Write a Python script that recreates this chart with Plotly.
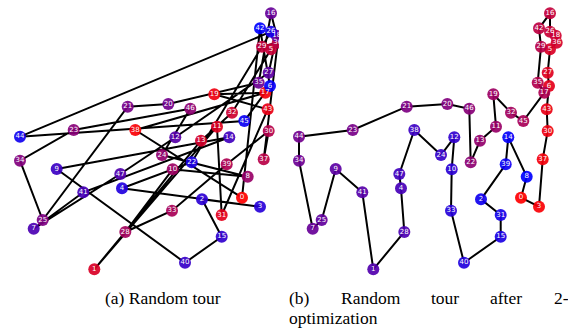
import plotly.graph_objects as go

# City coordinates (same cities in both panels)
city_x = [242, 94.3, 202, 260, 122, 271, 270, 33.7, 247.7, 56.7,
          172.7, 217, 175.3, 201, 229.3, 221.7, 271, 265.3, 276.7, 214.3,
          168.3, 127.7, 191.7, 73.7, 162, 42.7, 271, 268.7, 125.3, 262,
          268.7, 221.7, 232, 172, 20, 258.7, 277.7, 263.7, 135.3, 226.7,
          185, 83.3, 260, 267.7, 20, 244.3, 190.3, 120.3]
city_y = [82.3, 10.7, 80.7, 73.3, 91.7, 230.7, 194, 51.3, 103.3, 111,
          110.7, 153.3, 142.7, 139.3, 142.7, 43.3, 266.7, 187.3, 244.3, 185.7,
          176, 173.3, 117.7, 150, 125, 60, 248.3, 207.3, 48, 233.3,
          149, 65, 167.3, 69.3, 119.3, 197.3, 237.3, 120.7, 150, 115.7,
          17.3, 87.7, 251.7, 170.7, 143.3, 159, 171.3, 106]
city_labels = [str(i) for i in range(len(city_x))]

# Visiting orders
random_tour = [0, 38, 17, 19, 43, 31, 11, 1, 13, 32, 5, 29, 36, 37, 30, 39, 33, 28, 10, 8,
               24, 46, 23, 34, 25, 21, 20, 35, 16, 18, 27, 12, 47, 7, 41, 14, 9, 40, 15, 2,
               3, 4, 22, 26, 44, 45, 6, 42]
opt_tour = [0, 3, 37, 30, 43, 6, 27, 5, 36, 18, 26, 16, 42, 29, 35, 17, 45, 32, 19, 11,
            13, 22, 46, 20, 21, 23, 44, 34, 7, 25, 9, 41, 1, 28, 4, 47, 38, 24, 12, 10,
            33, 40, 15, 31, 2, 39, 14, 8]

caption_a = "(a) Random tour"
caption_b_words = ["(b)", "Random", "tour", "after", "2-"]
caption_b_line2 = "optimization"

W, H = 568, 332
fig = go.Figure()


def color_for(pos, n):
    t = pos / (n - 1)
    return "rgb(%d,0,%d)" % (round(255 * (1 - t)), round(255 * t))


def add_tour(tour, xa, ya):
    n = len(tour)
    closed = tour + [tour[0]]
    fig.add_trace(go.Scatter(
        x=[city_x[c] for c in closed], y=[city_y[c] for c in closed],
        mode="lines", line=dict(color="black", width=2),
        xaxis=xa, yaxis=ya, hoverinfo="skip", showlegend=False))
    fig.add_trace(go.Scatter(
        x=[city_x[c] for c in tour], y=[city_y[c] for c in tour],
        mode="markers+text", text=[city_labels[c] for c in tour],
        textposition="middle center",
        textfont=dict(color="white", size=7, family="DejaVu Sans"),
        marker=dict(size=12, color=[color_for(i, n) for i in range(n)],
                    opacity=0.92, line=dict(width=0)),
        cliponaxis=False, xaxis=xa, yaxis=ya, showlegend=False))


add_tour(random_tour, "x", "y")
add_tour(opt_tour, "x2", "y2")

ax = dict(visible=False, showgrid=False, zeroline=False)
fig.update_layout(
    width=W, height=H, margin=dict(l=0, r=0, t=0, b=0),
    paper_bgcolor="white", plot_bgcolor="white",
    xaxis=dict(ax, domain=[0, 284 / W], range=[0, 284]),
    yaxis=dict(ax, domain=[0, 1], range=[-52, 280]),
    xaxis2=dict(ax, domain=[279 / W, 563 / W], range=[0, 284]),
    yaxis2=dict(ax, domain=[0, 1], range=[-52, 280], anchor="x2"),
)

serif = dict(family="Liberation Serif, Times New Roman, serif", size=17.5, color="black")
anns = [dict(text=caption_a, x=163 / W, y=1 - 298 / H, xref="paper", yref="paper",
             xanchor="center", yanchor="middle", showarrow=False, font=serif)]
word_left = [287, 338.5, 429, 488, 551.5]
for w, xl in zip(caption_b_words, word_left):
    anns.append(dict(text=w, x=xl / W, y=1 - 298 / H, xref="paper", yref="paper",
                     xanchor="left", yanchor="middle", showarrow=False, font=serif))
anns.append(dict(text=caption_b_line2, x=287 / W, y=1 - 318 / H, xref="paper", yref="paper",
                 xanchor="left", yanchor="middle", showarrow=False, font=serif))
fig.update_layout(annotations=anns)

fig.write_html("out.html", config={"displayModeBar": False},
               post_script="document.body.style.margin='0';document.body.style.padding='0';")
